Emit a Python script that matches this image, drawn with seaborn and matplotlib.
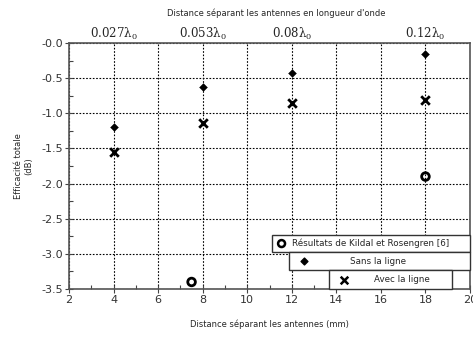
import matplotlib
matplotlib.use("Agg")
import matplotlib.pyplot as plt
import seaborn as sns
import pandas as pd
from matplotlib.patches import Rectangle
from matplotlib.ticker import FixedLocator, MultipleLocator

sns.set_theme(style="white")
plt.rcParams['font.family'] = ['DejaVu Sans']
plt.rcParams['mathtext.fontset'] = 'dejavuserif'

# Data
dist_sans = [4, 8, 12, 18]
eff_sans = [-1.20, -0.62, -0.42, -0.15]
dist_avec = [4, 8, 12, 18]
eff_avec = [-1.55, -1.14, -0.85, -0.81]
dist_kildal = [7.5, 18]
eff_kildal = [-3.40, -1.90]
top_ticks = [4, 8, 12, 18]
top_labels = ["0.027λ$_0$", "0.053λ$_0$", "0.08λ$_0$", "0.12λ$_0$"]
y_ticks = [0.0, -0.5, -1.0, -1.5, -2.0, -2.5, -3.0, -3.5]
y_labels = ["-0.0", "-0.5", "-1.0", "-1.5", "-2.0", "-2.5", "-3.0", "-3.5"]
x_ticks = [2, 4, 6, 8, 10, 12, 14, 16, 18, 20]

df = pd.concat([
    pd.DataFrame({"d": dist_sans, "e": eff_sans, "s": "Sans la ligne"}),
    pd.DataFrame({"d": dist_avec, "e": eff_avec, "s": "Avec la ligne"}),
    pd.DataFrame({"d": dist_kildal, "e": eff_kildal, "s": "Kildal"}),
])

fig = plt.figure(figsize=(4.73, 3.37), dpi=100)
ax = fig.add_axes([0.146, 0.1424, 0.8477, 0.730])

sns.scatterplot(data=df[df.s == "Sans la ligne"], x="d", y="e", marker="D", s=16,
                color="black", edgecolor="black", ax=ax, legend=False, zorder=5)
sns.scatterplot(data=df[df.s == "Avec la ligne"], x="d", y="e", marker="x", s=38,
                color="black", linewidth=2, ax=ax, legend=False, zorder=5)
sns.scatterplot(data=df[df.s == "Kildal"], x="d", y="e", marker="o", s=30,
                facecolor="none", edgecolor="black", linewidth=2, ax=ax, legend=False,
                zorder=5, clip_on=False)

ax.set_xlim(2, 20)
ax.set_ylim(-3.5, 0.0)
ax.xaxis.set_major_locator(FixedLocator(x_ticks))
ax.xaxis.set_minor_locator(MultipleLocator(1))
ax.yaxis.set_major_locator(FixedLocator(y_ticks))
ax.set_yticklabels(y_labels)
ax.yaxis.set_minor_locator(MultipleLocator(0.25))
ax.tick_params(axis="both", which="major", direction="inout", length=6, width=0.8,
               labelsize=8, colors="#444444", labelcolor="#333333", pad=1, left=True, bottom=True)
ax.tick_params(axis="both", which="minor", direction="in", length=3, width=0.8,
               colors="#444444", left=True, bottom=True)
ax.grid(True, which="major", color="black", linestyle=(0, (1.5, 1.5)), linewidth=0.8)
for sp in ax.spines.values():
    sp.set_color("#555555")
    sp.set_linewidth(1.2)

ax.set_xlabel("Distance séparant les antennes (mm)", fontsize=6, labelpad=11)
ax.set_ylabel("Efficacité totale\n(dB)", fontsize=6, labelpad=6)

sec = ax.secondary_xaxis("top")
sec.set_xticks(top_ticks)
sec.set_xticklabels(top_labels, fontsize=8.5, family="DejaVu Serif")
sec.tick_params(length=0, pad=1)
sec.spines["top"].set_visible(False)
fig.text(0.585, 0.962, "Distance séparant les antennes en longueur d'onde", fontsize=6,
         ha="center", va="center")

# Legend boxes
boxes = [
    (0.506, 0.150, 0.494, 0.0695, "o", "Résultats de Kildal et Rosengren [6]", 0.53, 0.555, "left"),
    (0.549, 0.077, 0.451, 0.073, "D", "Sans la ligne", 0.586, 0.770, "center"),
    (0.648, 0.000, 0.307, 0.077, "x", "Avec la ligne", 0.686, 0.830, "center"),
]
for (bx, by, bw, bh, mk, txt, mx, tx, ha) in boxes:
    ax.add_patch(Rectangle((bx, by), bw, bh, transform=ax.transAxes, facecolor="white",
                           edgecolor="#333333", linewidth=1.0, zorder=6, clip_on=False))
    yc = by + bh / 2
    if mk == "o":
        ax.scatter([mx], [yc], transform=ax.transAxes, marker="o", s=25, facecolor="none",
                   edgecolor="black", linewidth=1.8, zorder=7, clip_on=False)
    elif mk == "D":
        ax.scatter([mx], [yc], transform=ax.transAxes, marker="D", s=12, color="black",
                   zorder=7, clip_on=False)
    else:
        ax.scatter([mx], [yc], transform=ax.transAxes, marker="x", s=30, color="black",
                   linewidth=1.8, zorder=7, clip_on=False)
    ax.text(tx, yc, txt, transform=ax.transAxes, fontsize=6.3, ha=ha, va="center", zorder=8)

fig.savefig("out.png", dpi=100)
